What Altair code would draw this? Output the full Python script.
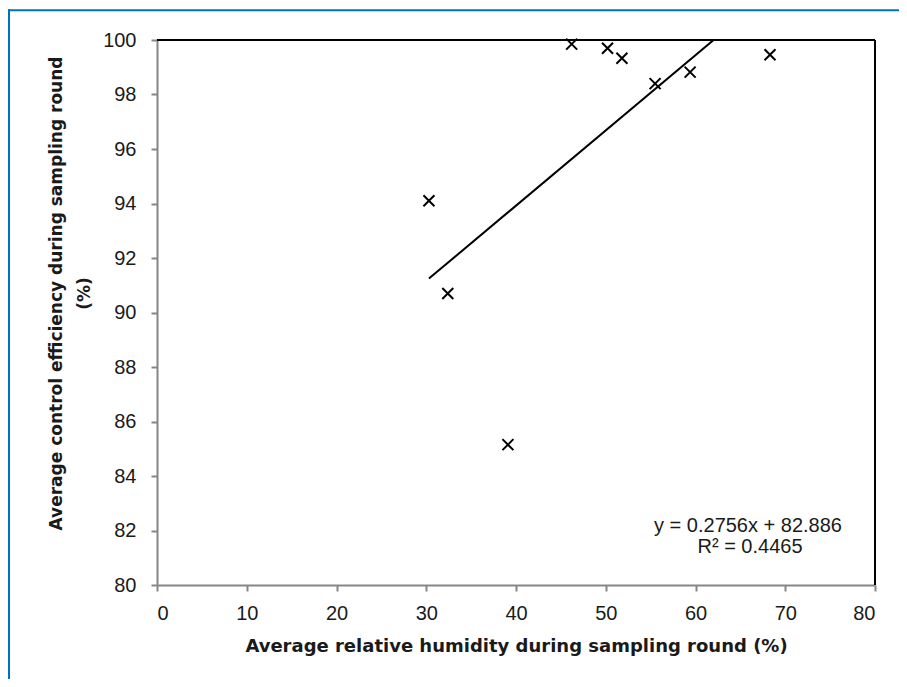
import altair as alt
import pandas as pd

# Data
rh = [30.3, 32.4, 39.1, 46.2, 50.2, 51.8, 55.5, 59.4, 68.3]
ce = [94.1, 90.7, 85.15, 99.85, 99.7, 99.33, 98.4, 98.82, 99.46]
x_ticks = [0, 10, 20, 30, 40, 50, 60, 70, 80]
y_ticks = [80, 82, 84, 86, 88, 90, 92, 94, 96, 98, 100]
eq_text = "y = 0.2756x + 82.886"
r2_text = "R² = 0.4465"

df = pd.DataFrame({"rh": rh, "ce": ce})

W, H = 718, 545
FONT = "Liberation Sans"
TFONT = "DejaVu Sans"
AX_GRAY = "#868686"
TXT = "#1a1a1a"

xscale = alt.Scale(domain=[0, 80], nice=False, zero=False)
yscale = alt.Scale(domain=[80, 100], nice=False, zero=False)

xaxis = alt.Axis(
    values=x_ticks, grid=False, domainColor=AX_GRAY, domainWidth=2,
    tickColor=AX_GRAY, tickWidth=2, tickSize=6, labelFont=FONT,
    labelFontSize=20, labelColor=TXT, labelPadding=12,
    title="Average relative humidity during sampling round (%)",
    titleFont=TFONT, titleFontSize=18, titleFontWeight="bold", titleColor=TXT,
    titleBaseline="alphabetic", titleY=66, titleX=W / 2,
)
yaxis = alt.Axis(
    values=y_ticks, grid=False, domainColor=AX_GRAY, domainWidth=2,
    tickColor=AX_GRAY, tickWidth=2, tickSize=6, labelFont=FONT,
    labelFontSize=20, labelColor=TXT, labelPadding=15,
    title=["Average control efficiency during sampling round", "(%)"],
    titleFont=TFONT, titleFontSize=17, titleFontWeight="bold", titleColor=TXT,
    titleAngle=270, titleAlign="center", titleBaseline="alphabetic",
    titleLineHeight=28, titleX=-96, titleY=253,
)

base = alt.Chart(df)

points = base.mark_point(
    shape="M-1,-1L1,1M-1,1L1,-1", filled=False, stroke="black",
    strokeWidth=2, size=121, opacity=1,
).encode(
    x=alt.X("rh:Q", scale=xscale, axis=xaxis),
    y=alt.Y("ce:Q", scale=yscale, axis=yaxis),
)

trend = base.transform_regression("rh", "ce").mark_line(
    color="black", strokeWidth=2, clip=True
).encode(
    x=alt.X("rh:Q", scale=xscale),
    y=alt.Y("ce:Q", scale=yscale),
)

one = alt.Data(values=[{}])

top_border = alt.Chart(one).mark_rule(color="black", strokeWidth=2).encode(
    x=alt.value(0), x2=alt.value(W), y=alt.value(0)
)
right_border = alt.Chart(one).mark_rule(color="black", strokeWidth=2).encode(
    x=alt.value(W), y=alt.value(0), y2=alt.value(H)
)
blue_top = alt.Chart(one).mark_rule(color="#0070C0", strokeWidth=2).encode(
    x=alt.value(-149), x2=alt.value(742), y=alt.value(-29.7)
)
blue_left = alt.Chart(one).mark_rule(color="#0070C0", strokeWidth=2).encode(
    x=alt.value(-148), y=alt.value(-30.7), y2=alt.value(640)
)

eq = alt.Chart(alt.Data(values=[{"t": eq_text}])).mark_text(
    font=FONT, fontSize=20, color=TXT, align="center", baseline="alphabetic"
).encode(text="t:N", x=alt.value(591), y=alt.value(491.5))
r2 = alt.Chart(alt.Data(values=[{"t": r2_text}])).mark_text(
    font=FONT, fontSize=20, color=TXT, align="center", baseline="alphabetic"
).encode(text="t:N", x=alt.value(593), y=alt.value(513))

chart = alt.layer(
    trend, points, top_border, right_border, eq, r2, blue_top, blue_left
).properties(
    width=W, height=H,
    autosize=alt.AutoSizeParams(type="none"),
    padding={"left": 149, "top": 32, "right": 24, "bottom": 94},
    background="white",
).configure_view(stroke="transparent")

chart.save("out.html", embed_options={"renderer": "svg", "actions": False})
